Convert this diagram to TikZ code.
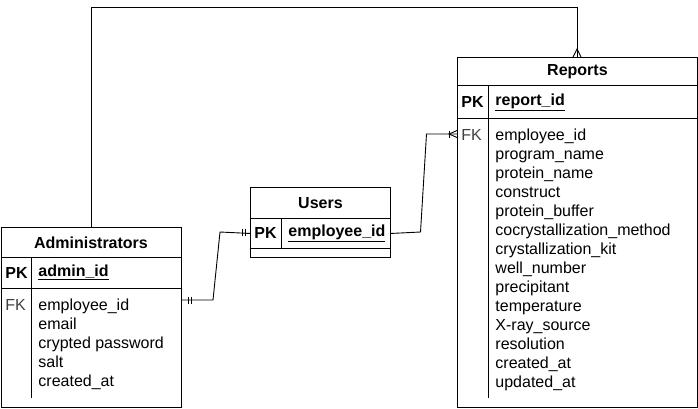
\documentclass[tikz,border=0pt]{standalone}
\usepackage{fontspec}
\setmainfont{Liberation Sans}
\tikzset{
  row/.style={draw, inner sep=0, anchor=north west},
  ttl/.style={font=\fontsize{16}{19}\selectfont\bfseries},
  key/.style={anchor=west, inner sep=0, font=\fontsize{16}{19}\selectfont\bfseries},
  fk/.style={anchor=west, inner sep=0, text=black!75},
  fields/.style={anchor=north west, inner sep=0, align=left, font=\fontsize{16}{19}\selectfont}
}
\begin{document}
\begin{tikzpicture}[x=1pt, y=-1pt, line width=0.9pt, font=\fontsize{16}{19}\selectfont]
\useasboundingbox (0,0) rectangle (698,408);
% Administrators
\node[row, minimum width=180pt, minimum height=30pt] (admint) at (0.5,227){};
\node[row, minimum width=180pt, minimum height=31pt] (adminpk) at (0.5,257){};
\node[row, minimum width=180pt, minimum height=119pt] (adminf) at (0.5,288){};
\draw (31,257) -- (31,398);
\node[ttl] (admintitle) at (admint.center){Administrators};
\node[key] (adminpkl) at (5,272.5){PK};
\node[key] (adminid) at (38,272.5){\underline{admin\_id}};
\node[fk] (adminfkl) at (5,305){FK};
\node[fields] (adminlist) at (38,298){employee\_id\\email\\crypted password\\salt\\created\_at};
% Users
\node[row, minimum width=140pt, minimum height=31pt] (userst) at (250,187){};
\node[row, minimum width=140pt, minimum height=30pt] (userspk) at (250,218){};
\node[row, minimum width=140pt, minimum height=9pt] (usersf) at (250,248){};
\draw (281,218) -- (281,248);
\node[ttl] (userstitle) at (userst.center){Users};
\node[key] (userspkl) at (254,233){PK};
\node[key] (usersid) at (288,233){\underline{employee\_id}};
% Reports
\node[row, minimum width=240pt, minimum height=28pt] (reportst) at (457,57){};
\node[row, minimum width=240pt, minimum height=33pt] (reportspk) at (457,85){};
\node[row, minimum width=240pt, minimum height=289pt] (reportsf) at (457,118){};
\draw (488,85) -- (488,398);
\node[ttl] (reportstitle) at (reportst.center){Reports};
\node[key] (reportspkl) at (461,102){PK};
\node[key] (reportsid) at (495,102){\underline{report\_id}};
\node[fk] (reportsfkl) at (461,135){FK};
\node[fields] (reportslist) at (495,128){employee\_id\\program\_name\\protein\_name\\construct\\protein\_buffer\\cocrystallization\_method\\crystallization\_kit\\well\_number\\precipitant\\temperature\\X-ray\_source\\resolution\\created\_at\\updated\_at};
% relations
\coordinate (adminfk) at (181,300);
\coordinate (reportsfk) at (457,134);
\draw (adminfk) -- (213,300) -- (220,232) -- (userspk.west);
\draw (188,296.5) -- (188,303.5);
\draw (191,296.5) -- (191,303.5);
\draw (242,228.5) -- (242,235.5);
\draw (245,228.5) -- (245,235.5);
\draw (userspk.east) -- (420.5,232) -- (426.5,134) -- (reportsfk);
\draw (449,130.5) -- (449,137.5);
\draw (457,130.5) -- (449,134) -- (457,137.5);
\draw (admint.north) |- (300,7.5) -| (reportst.north);
\draw (573,57) -- (577,49) -- (581,57);
\end{tikzpicture}
\end{document}
